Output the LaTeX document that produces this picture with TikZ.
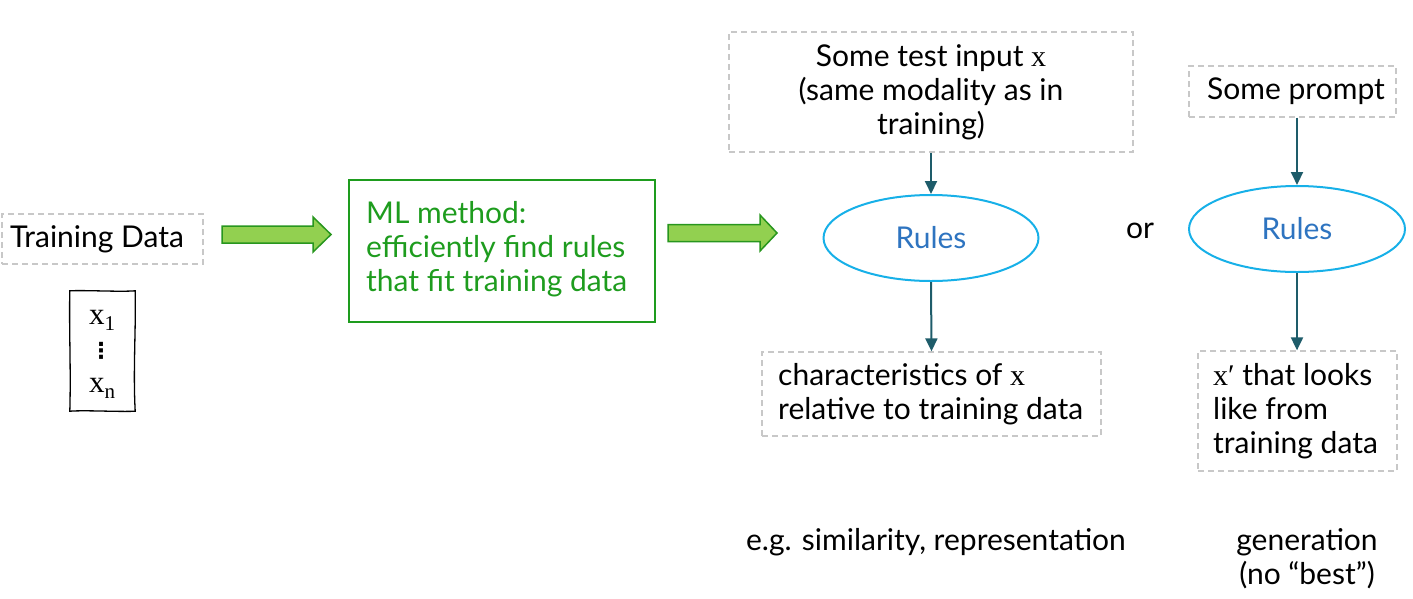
\documentclass[tikz,border=0pt]{standalone}
\usepackage{fontspec}
\setmainfont{Lato}
\newfontfamily\serif{Liberation Serif}
\newfontfamily\dejavu{DejaVu Sans}
\usetikzlibrary{arrows.meta,shapes.geometric}
\definecolor{dashgray}{RGB}{200,200,200}
\definecolor{mlgreen}{RGB}{30,156,30}
\definecolor{arrfill}{RGB}{146,208,80}
\definecolor{arredge}{RGB}{40,150,30}
\definecolor{teal}{RGB}{30,92,106}
\definecolor{rulecyan}{RGB}{23,176,232}
\definecolor{ruleblue}{RGB}{46,116,192}
\begin{document}
\begin{tikzpicture}[x=1pt,y=-1pt,
  txt/.style={font=\fontsize{30}{34}\selectfont, inner sep=0pt},
  dbox/.style={draw=dashgray, line width=1.3pt, dash pattern=on 6pt off 4pt, inner sep=0pt},
  rules/.style={ellipse, draw=rulecyan, line width=2pt, inner sep=0pt, text=ruleblue, font=\fontsize{30}{34}\selectfont},
  conn/.style={draw=teal, line width=2pt, -{Triangle[width=12pt,length=13pt]}},
  blockarrow/.style={fill=arrfill, draw=arredge, line width=1.5pt, line join=miter},
  xvar/.style={inner sep=0pt, font=\fontsize{31}{34}\serif}
]
\useasboundingbox (0,0) rectangle (1413,598);

% Training data
\node[dbox, minimum width=201pt, minimum height=50pt] (train) at (102.5,239) {};
\node[txt] (traintxt) at (97,239) {Training Data};
\node[minimum width=65pt, minimum height=120pt, inner sep=0pt] (xs) at (102.5,351) {};
\draw[line width=1.3pt, black]
  (xs.north west) .. controls (85,290) and (120,292) .. (xs.north east)
  .. controls (136,330) and (133,370) .. (xs.south east)
  .. controls (120,412) and (85,410) .. (xs.south west)
  .. controls (71,370) and (69,330) .. cycle;
\node[xvar] (x1) at (102,320) {x\raisebox{-6pt}{\fontsize{21}{24}\selectfont 1}};
\node[inner sep=0pt, font=\fontsize{22}{22}\dejavu\bfseries] (vd) at (101,351) {⋮};
\node[xvar] (xn) at (102,388) {x\raisebox{-6pt}{\fontsize{21}{24}\selectfont n}};

% green arrow 1
\draw[blockarrow] (222,226) -- (313,226) -- (313,217) -- (331,234.5) -- (313,252) -- (313,243) -- (222,243) -- cycle;

% ML box
\node[draw=mlgreen, line width=1.8pt, minimum width=306pt, minimum height=142pt, inner sep=0pt] (ml) at (502,251) {};
\node[txt, text=mlgreen, align=left, anchor=west] (mltxt) at (366,249) {ML method:\\efficiently find rules\\that fit training data};

% green arrow 2
\draw[blockarrow] (668,224.5) -- (760,224.5) -- (760,215) -- (777,233) -- (760,251) -- (760,241.5) -- (668,241.5) -- cycle;

% test input
\node[dbox, minimum width=404pt, minimum height=120pt] (test) at (931,92) {};
\node[txt, align=center] (testtxt) at (931,92) {Some test input {\serif x}\\(same modality as in\\training)};
\node[rules, minimum width=215pt, minimum height=86pt] (r1) at (931,238) {Rules};
\node[dbox, minimum width=339pt, minimum height=84pt] (chr) at (931.5,394) {};
\node[txt, align=left, anchor=west] (chrtxt) at (778,394) {characteristics of {\serif x}\\relative to training data};
\draw[conn] (test.south) -- (r1.north);
\draw[conn] (r1.south) -- (chr.north);

% or
\node[txt] (or) at (1140,231) {or};

% prompt
\node[dbox, minimum width=207pt, minimum height=51pt] (prompt) at (1292.5,91.5) {};
\node[txt] (prompttxt) at (1296,91) {Some prompt};
\node[rules, minimum width=216pt, minimum height=86pt] (r2) at (1297,229) {Rules};
\node[dbox, minimum width=199pt, minimum height=120pt] (gen) at (1297.5,411) {};
\node[txt, align=left, anchor=west] (gentxt) at (1213,411) {{\serif x′} that looks\\like from\\training data};
\draw[conn] (prompt.south -| r2.north) -- (r2.north);
\draw[conn] (r2.south) -- (gen.north -| r2.south);

% captions
\node[txt] (eg) at (936,542) {e.g. similarity, representation};
\node[txt, align=center] (gencap) at (1307,559) {generation\\(no “best”)};
\end{tikzpicture}
\end{document}
